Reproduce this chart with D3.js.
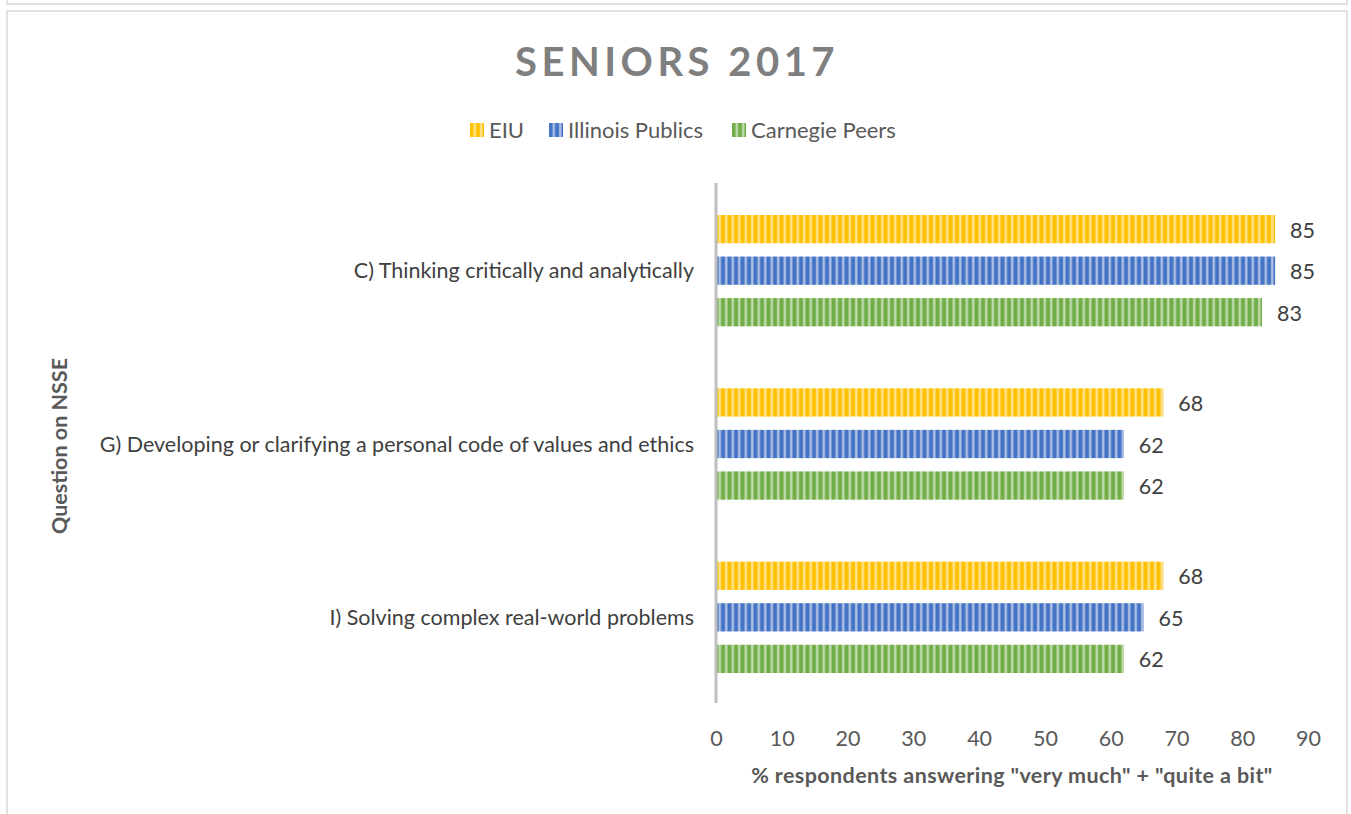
<!DOCTYPE html>
<html>
<head>
<meta charset="utf-8">
<script src="https://cdn.jsdelivr.net/npm/d3@7"></script>
<style>
  body { margin: 0; background: #fff; }
  svg { display: block; }
  text { font-family: Lato, "Open Sans", sans-serif; }
</style>
</head>
<body>
<svg id="chart" width="1351" height="814"></svg>
<script>
const categories = [
  "C) Thinking critically and analytically",
  "G) Developing or clarifying a personal code of values and ethics",
  "I) Solving complex real-world problems",
];
const seriesNames = ["EIU", "Illinois Publics", "Carnegie Peers"];
const seriesColors = ["#ffc000", "#4472c4", "#70ad47"];
const eiu = [85, 68, 68];
const illinoisPublics = [85, 62, 65];
const carnegiePeers = [83, 62, 62];
const xTicks = [0, 10, 20, 30, 40, 50, 60, 70, 80, 90];

const values = [eiu, illinoisPublics, carnegiePeers];

const svg = d3.select("#chart");

// frame (bottom of previous panel + this panel)
svg.append("rect").attr("x", 7).attr("y", -10).attr("width", 1340).attr("height", 14)
  .attr("fill", "none").attr("stroke", "#d9d9d9").attr("stroke-width", 1.5);
svg.append("rect").attr("x", 7).attr("y", 11).attr("width", 1340).attr("height", 820)
  .attr("fill", "#fff").attr("stroke", "#d9d9d9").attr("stroke-width", 1.5);

// stripe patterns
const defs = svg.append("defs");
seriesColors.forEach((c, i) => {
  const p = defs.append("pattern")
    .attr("id", "stripe" + i)
    .attr("patternUnits", "userSpaceOnUse")
    .attr("width", 6.5)
    .attr("height", 10);
  p.append("rect").attr("width", 6.5).attr("height", 10).attr("fill", c);
  p.append("rect").attr("x", 3.5).attr("width", 2.5).attr("height", 10)
    .attr("fill", "#fff").attr("opacity", 0.55);
});

const margin = { left: 716, top: 183 };

const x = d3.scaleLinear().domain([0, 90]).range([margin.left, margin.left + 592]);
const y0 = d3.scaleBand().domain(categories).range([margin.top, margin.top + 520]).paddingInner(0).paddingOuter(0);
const y1 = d3.scaleBand().domain(d3.range(3)).range([32, y0.bandwidth() - 30]).paddingInner(0.32);

// title
svg.append("text")
  .attr("x", 677).attr("y", 76)
  .attr("text-anchor", "middle")
  .attr("font-size", 40).attr("font-weight", "bold")
  .attr("letter-spacing", 4.5)
  .attr("fill", "#7f7f7f")
  .text("SENIORS 2017");

// legend
const legendX = [470, 549, 732];
seriesNames.forEach((name, i) => {
  const g = svg.append("g").attr("transform", `translate(${legendX[i]}, 130)`);
  g.append("rect").attr("x", 0).attr("y", -7).attr("width", 14).attr("height", 14)
    .attr("fill", `url(#stripe${i})`);
  g.append("text").attr("x", 19).attr("y", 0).attr("dy", "0.35em")
    .attr("font-size", 22).attr("fill", "#595959").text(name);
});

// bars
const groups = svg.append("g").selectAll("g")
  .data(categories)
  .join("g")
  .attr("transform", (d) => `translate(0, ${y0(d)})`);

groups.selectAll("rect")
  .data((d, ci) => values.map((s, si) => ({ si, v: s[ci] })))
  .join("rect")
  .attr("x", x(0))
  .attr("y", (d) => y1(d.si))
  .attr("width", (d) => x(d.v) - x(0))
  .attr("height", y1.bandwidth())
  .attr("fill", (d) => `url(#stripe${d.si})`);

groups.selectAll("text.val")
  .data((d, ci) => values.map((s, si) => ({ si, v: s[ci] })))
  .join("text")
  .attr("class", "val")
  .attr("x", (d) => x(d.v) + 15)
  .attr("y", (d) => y1(d.si) + y1.bandwidth() / 2 + 1)
  .attr("dy", "0.35em")
  .attr("font-size", 21.5)
  .attr("fill", "#404040")
  .text((d) => d.v);

// category labels
svg.append("g").selectAll("text")
  .data(categories)
  .join("text")
  .attr("x", x(0) - 22)
  .attr("y", (d) => y0(d) + y0.bandwidth() / 2 + 1)
  .attr("dy", "0.35em")
  .attr("text-anchor", "end")
  .attr("font-size", 21.5)
  .attr("fill", "#404040")
  .text((d) => d);

// x axis ticks
const xAxis = svg.append("g")
  .attr("transform", `translate(0, ${margin.top + 520})`)
  .call(d3.axisBottom(x).tickValues(xTicks).tickSize(0).tickPadding(28));
xAxis.select(".domain").remove();
xAxis.selectAll("text")
  .attr("font-size", 21.5)
  .attr("fill", "#595959")
  .attr("font-family", "Lato, 'Open Sans', sans-serif");

// y axis line
svg.append("line")
  .attr("x1", x(0)).attr("x2", x(0))
  .attr("y1", margin.top).attr("y2", margin.top + 520)
  .attr("stroke", "#bfbfbf").attr("stroke-width", 3);

// axis titles
svg.append("text")
  .attr("x", 1012).attr("y", 783)
  .attr("text-anchor", "middle")
  .attr("font-size", 21.5).attr("font-weight", "bold")
  .attr("letter-spacing", 0.4)
  .attr("fill", "#595959")
  .text('% respondents answering "very much" + "quite a bit"');

svg.append("text")
  .attr("transform", "translate(67, 446) rotate(-90)")
  .attr("text-anchor", "middle")
  .attr("font-size", 21.5).attr("font-weight", "bold")
  .attr("fill", "#595959")
  .text("Question on NSSE");
</script>
</body>
</html>
